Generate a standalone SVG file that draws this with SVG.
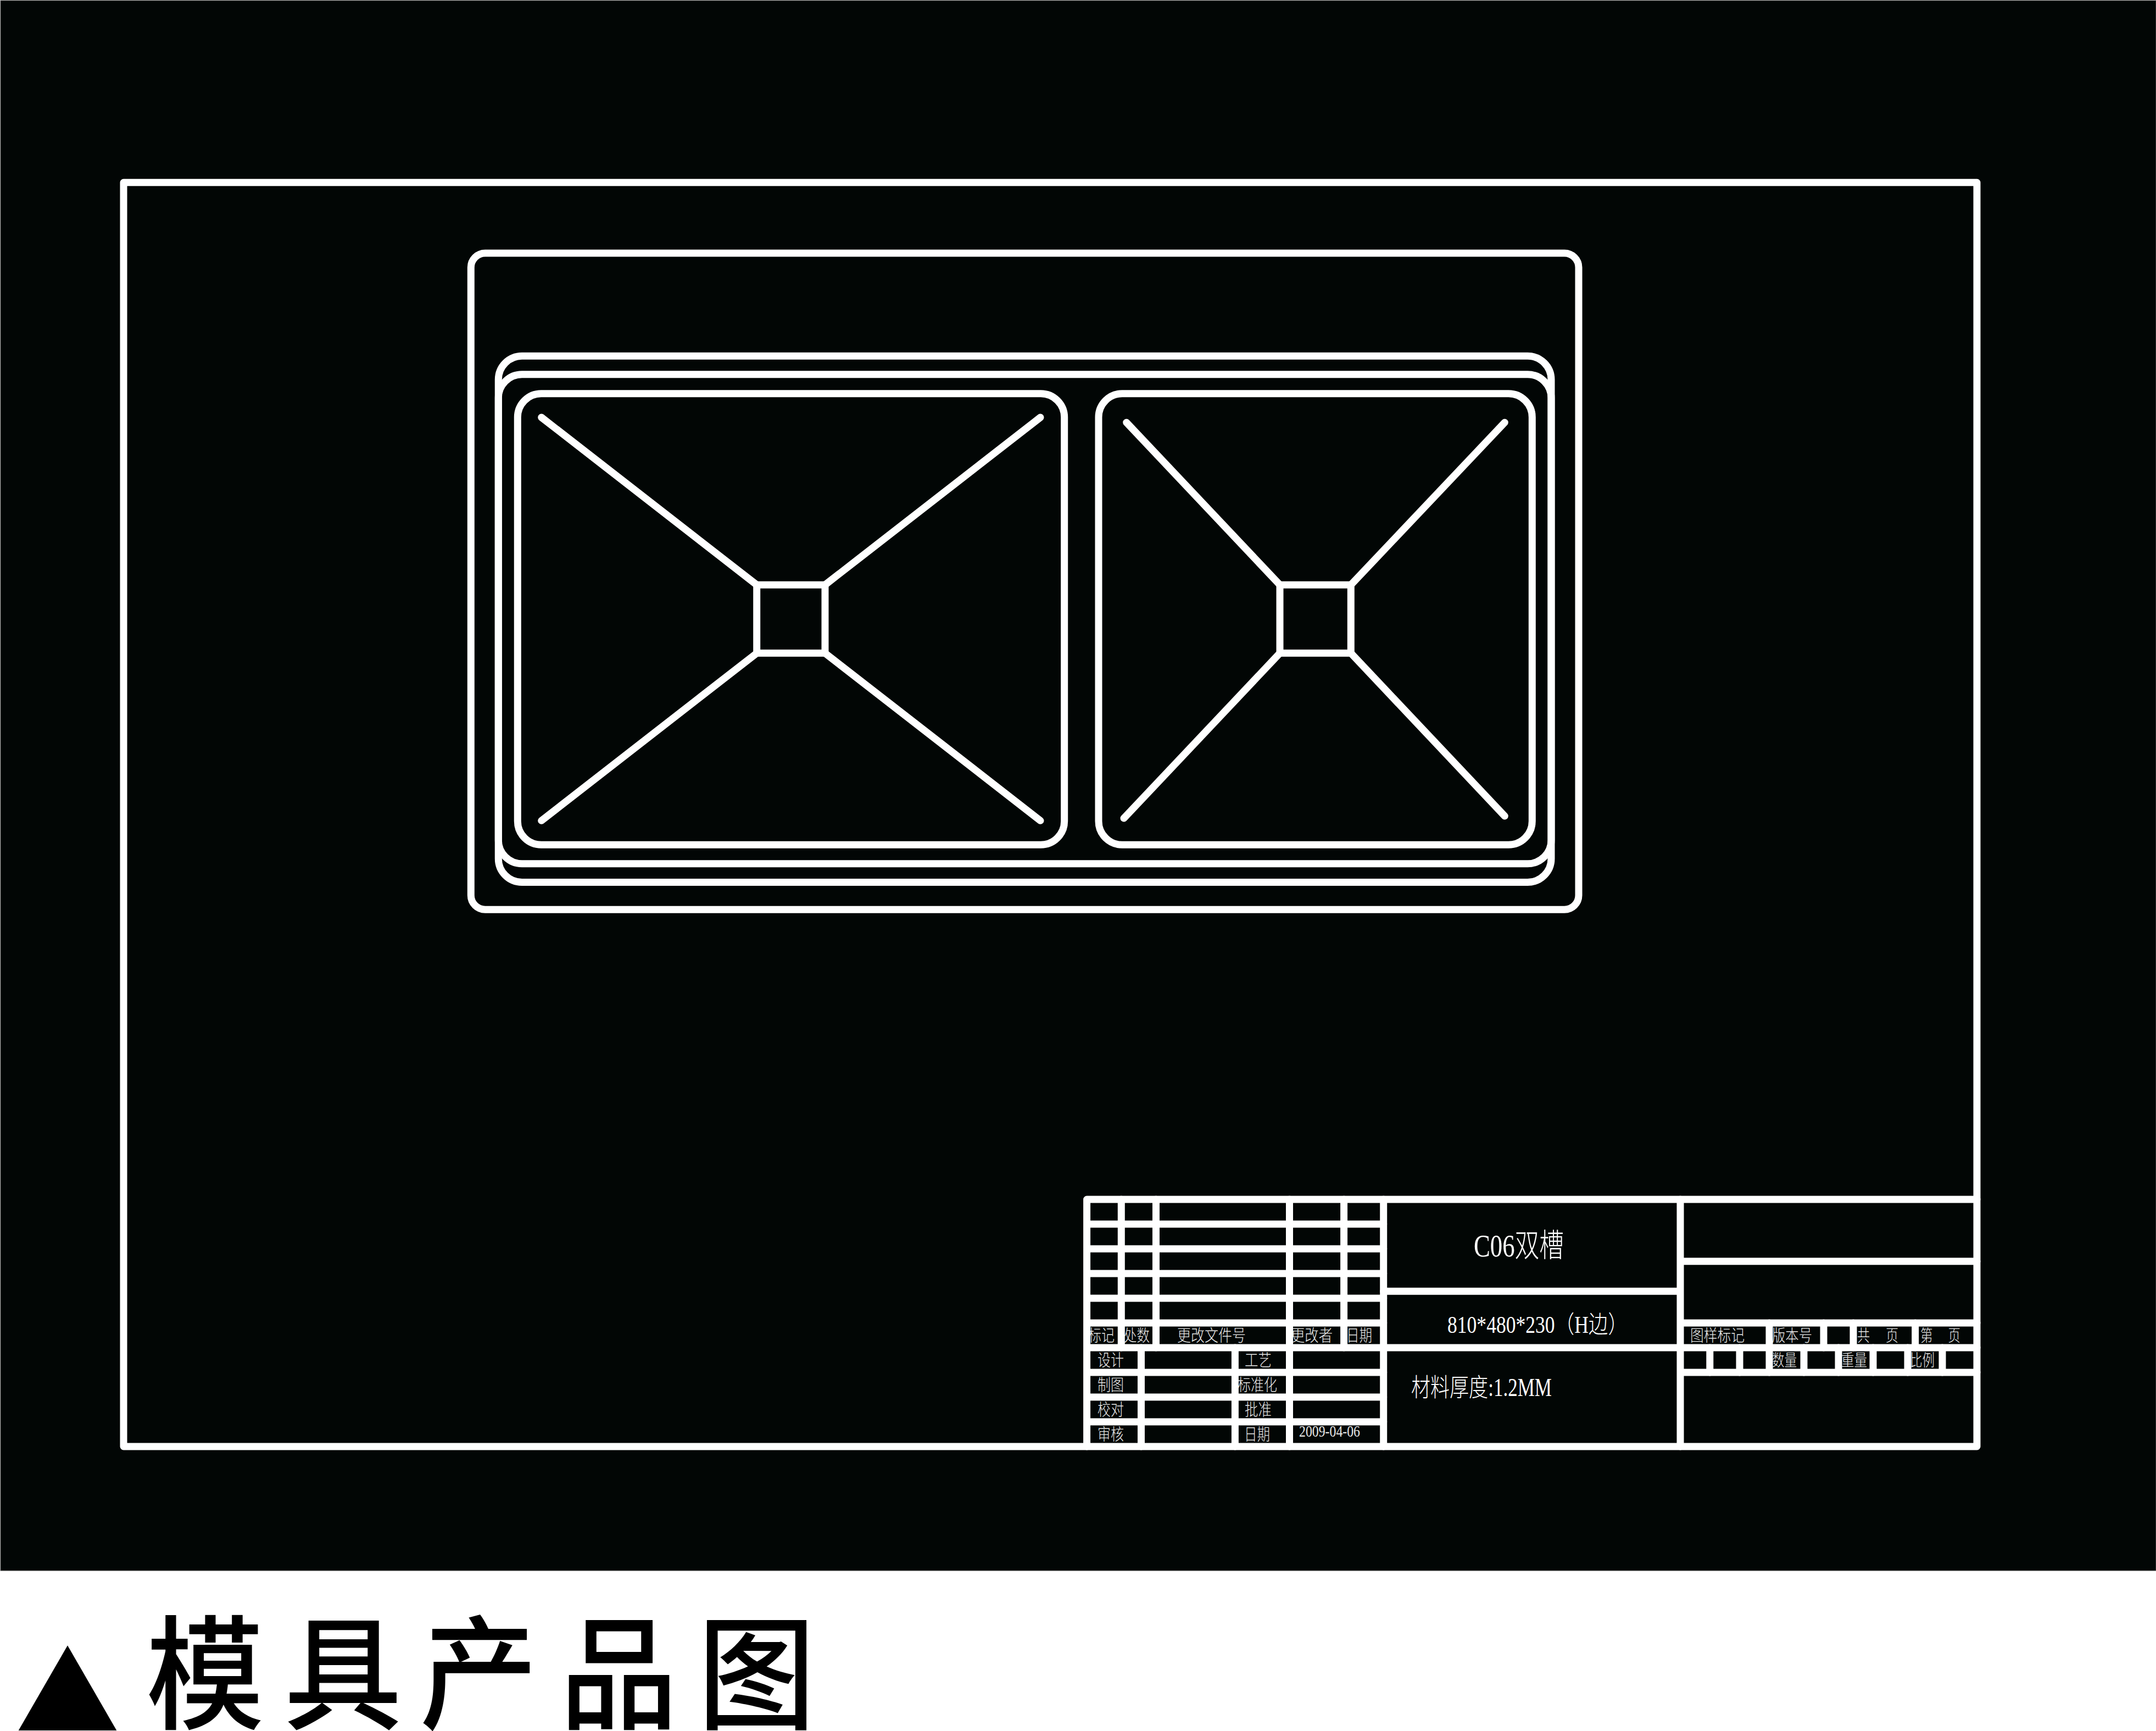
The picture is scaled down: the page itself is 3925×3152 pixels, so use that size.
<svg xmlns="http://www.w3.org/2000/svg" width="3925" height="3152" viewBox="0 0 3925 3152">
<style>
.ln{fill:none;stroke:#fff;stroke-width:13;stroke-linecap:round;stroke-linejoin:round}
.sq{fill:none;stroke:#fff;stroke-width:13;stroke-linejoin:miter}
.t{font-family:"Liberation Serif","Noto Sans CJK SC",serif;font-weight:300;fill:#e8e8e8;font-size:30px;white-space:pre}
.h{font-family:"Noto Sans CJK SC",sans-serif;font-weight:500;fill:#000;font-size:225px}
</style>
<rect width="3925" height="3152" fill="#fff"/>
<rect id="background" x="1" y="1" width="3924" height="2859" fill="#020605" stroke="#555" stroke-width="1"/>
<g id="labels">
<text class="t" x="1981" y="2442" textLength="48" lengthAdjust="spacingAndGlyphs">标记</text>
<text class="t" x="2046" y="2442" textLength="47" lengthAdjust="spacingAndGlyphs">处数</text>
<text class="t" x="2143" y="2442" textLength="125" lengthAdjust="spacingAndGlyphs">更改文件号</text>
<text class="t" x="2350" y="2442" textLength="76" lengthAdjust="spacingAndGlyphs">更改者</text>
<text class="t" x="2451" y="2442" textLength="47" lengthAdjust="spacingAndGlyphs">日期</text>
<text class="t" x="1998" y="2487" textLength="48" lengthAdjust="spacingAndGlyphs">设计</text>
<text class="t" x="2266" y="2487" textLength="49" lengthAdjust="spacingAndGlyphs">工艺</text>
<text class="t" x="1998" y="2532" textLength="48" lengthAdjust="spacingAndGlyphs">制图</text>
<text class="t" x="2253" y="2532" textLength="72" lengthAdjust="spacingAndGlyphs">标准化</text>
<text class="t" x="1998" y="2577" textLength="48" lengthAdjust="spacingAndGlyphs">校对</text>
<text class="t" x="2266" y="2577" textLength="49" lengthAdjust="spacingAndGlyphs">批准</text>
<text class="t" x="1998" y="2622" textLength="48" lengthAdjust="spacingAndGlyphs">审核</text>
<text class="t" x="2265" y="2622" textLength="47" lengthAdjust="spacingAndGlyphs">日期</text>
<text class="t" x="2365" y="2616" textLength="111" lengthAdjust="spacingAndGlyphs">2009-04-06</text>
<text class="t" x="3077" y="2442" textLength="99" lengthAdjust="spacingAndGlyphs">图样标记</text>
<text class="t" x="3226" y="2442" textLength="73" lengthAdjust="spacingAndGlyphs">版本号</text>
<text class="t" x="3381" y="2442" textLength="75" lengthAdjust="spacingAndGlyphs">共     页</text>
<text class="t" x="3496" y="2442" textLength="73" lengthAdjust="spacingAndGlyphs">第     页</text>
<text class="t" x="3226" y="2487" textLength="45" lengthAdjust="spacingAndGlyphs">数量</text>
<text class="t" x="3352" y="2487" textLength="47" lengthAdjust="spacingAndGlyphs">重量</text>
<text class="t" x="3477" y="2487" textLength="45" lengthAdjust="spacingAndGlyphs">比例</text>
<text class="t" x="2683" y="2288" textLength="164" lengthAdjust="spacingAndGlyphs" style="font-size:58px;fill:#fff">C06双槽</text>
<text class="t" x="2635" y="2427" textLength="328" lengthAdjust="spacingAndGlyphs" style="font-size:44px;fill:#fff">810*480*230（H边）</text>
<text class="t" x="2569" y="2542" textLength="256" lengthAdjust="spacingAndGlyphs" style="font-size:46px;fill:#fff">材料厚度:1.2MM</text>
</g>
<g id="frame">
<rect class="ln" x="225" y="332.3" width="3374" height="2301.7"/>
</g>
<g id="title-block">
<path class="ln" d="M1978.6 2634V2184H3599M1978.6 2229H2518.7M1978.6 2274H2518.7M1978.6 2319H2518.7M1978.6 2364H2518.7M1978.6 2409H2518.7M1978.6 2454H3599M1978.6 2499H2518.7M1978.6 2544H2518.7M1978.6 2589H2518.7"/>
<path class="ln" d="M2041.3 2184V2454M2104.5 2184V2454M2347.5 2184V2634M2446.6 2184V2454M2518.7 2184V2634M2077.5 2454V2634M2248.4 2454V2634"/>
<path class="ln" d="M2518.7 2351.3H3059M3059 2184V2634M3059 2296.7H3599M3059 2409H3599M3059 2499H3599"/>
<path class="ln" d="M3221 2409V2499M3320 2409V2454M3374 2409V2454M3486.7 2409V2454M3112.8 2454V2499M3167 2454V2499M3284 2454V2499M3347 2454V2499M3410 2454V2499M3473 2454V2499M3536 2454V2499"/>
</g>
<g id="sink-outline">
<rect class="ln" x="857.3" y="461" width="2016.7" height="1195.3" rx="26" ry="26"/>
<rect class="ln" x="907.3" y="648.3" width="1916.7" height="958.2" rx="43" ry="43"/>
<rect class="ln" x="907.3" y="681.7" width="1916.7" height="891.1" rx="43" ry="43"/>
</g>
<g id="left-basin">
<rect class="ln" x="942.3" y="716.7" width="995.4" height="821.6" rx="43" ry="43"/>
<rect class="sq" x="1377.7" y="1065" width="124.3" height="124.3"/>
<path class="ln" d="M985.7 760L1377.7 1065M1894 760L1502 1065M985.7 1494.3L1377.7 1189.3M1894 1494.3L1502 1189.3"/>
</g>
<g id="right-basin">
<rect class="ln" x="2000" y="716.7" width="789.3" height="821.6" rx="43" ry="43"/>
<rect class="sq" x="2330" y="1065" width="129.3" height="124.3"/>
<path class="ln" d="M2050.7 769.3L2330 1065M2739.3 769.3L2459.3 1065M2046 1490L2330 1189.3M2739.3 1486L2459.3 1189.3"/>
</g>
<g id="caption">
<text class="h" x="28" y="3153" style="font-size:190px">▲</text>
<text class="h" transform="scale(.955 1)" x="278.5 541.4 800 1067 1329.8" y="3131">模具产品图</text>
</g>
</svg>
